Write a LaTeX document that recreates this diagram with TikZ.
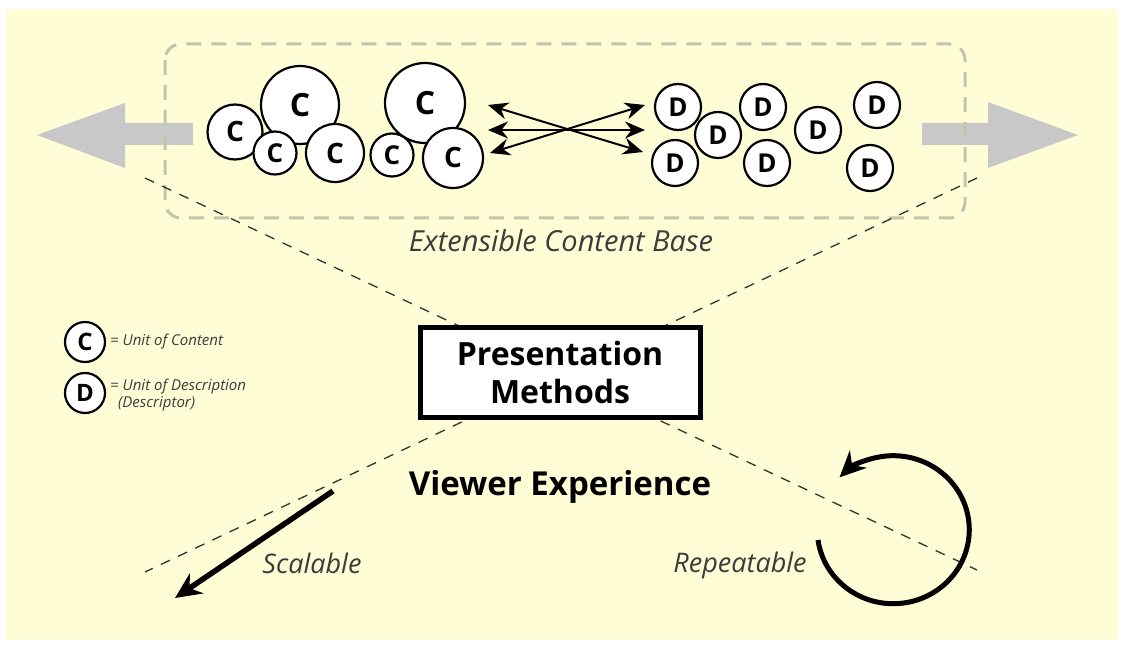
\documentclass[tikz,border=0pt]{standalone}
\usepackage{fontspec}
\setmainfont{Open Sans}
\usetikzlibrary{arrows.meta}
\definecolor{bgyellow}{RGB}{255,253,214}
\definecolor{arrowgrey}{RGB}{200,200,200}
\definecolor{dashgrey}{RGB}{196,196,170}
\definecolor{textgrey}{RGB}{60,60,60}
\tikzset{
  unit/.style={circle, draw=black, line width=2.2pt, fill=white, inner sep=0pt, font=\bfseries},
  dline/.style={dashed, dash pattern=on 10pt off 9pt, line width=1.3pt, black!80},
  bigarrow/.style={fill=arrowgrey, draw=none},
  cross/.style={line width=2pt, {Stealth[length=20pt,width=17pt]}-{Stealth[length=20pt,width=17pt]}},
  note/.style={font=\itshape, text=textgrey, inner sep=0pt},
}
\begin{document}
\begin{tikzpicture}[x=1pt,y=-1pt]
\useasboundingbox (0,0) rectangle (1124,647);
\fill[bgyellow] (6,9) rectangle (1118,640);

% grey big arrows
\fill[bigarrow] (193,123) -- (125,123) -- (125,103) -- (37,135) -- (125,168) -- (125,145) -- (193,145) -- cycle;
\fill[bigarrow] (922,123) -- (988,123) -- (988,102) -- (1078,135) -- (988,168) -- (988,145) -- (922,145) -- cycle;

% content base frame
\draw[dashgrey, line width=3pt, dash pattern=on 15pt off 10pt, rounded corners=16pt] (165,44) rectangle (965,218);
\node[note, font=\itshape\fontsize{29}{32}\selectfont] (base) at (561,241) {Extensible Content Base};

% diagonal dashed lines (X)
\coordinate (tl) at (145,178);
\coordinate (tr) at (977,178);
\coordinate (bl) at (145,572);
\coordinate (br) at (977,570);
\draw[dline] (tl) -- (br);
\draw[dline] (tr) -- (bl);

% C units
\node[unit, minimum size=78pt, font=\bfseries\fontsize{32}{32}\selectfont] (c2) at (300,105) {C};
\node[unit, minimum size=80pt, font=\bfseries\fontsize{32}{32}\selectfont] (c6) at (425,103) {C};
\node[unit, minimum size=55pt, font=\bfseries\fontsize{28}{28}\selectfont] (c1) at (235,132) {C};
\node[unit, minimum size=58pt, font=\bfseries\fontsize{28}{28}\selectfont] (c4) at (335,153) {C};
\node[unit, minimum size=60pt, font=\bfseries\fontsize{28}{28}\selectfont] (c7) at (453,158) {C};
\node[unit, minimum size=43pt, font=\bfseries\fontsize{26}{26}\selectfont] (c3) at (275,153) {C};
\node[unit, minimum size=43pt, font=\bfseries\fontsize{26}{26}\selectfont] (c5) at (392,155) {C};

% D units
\foreach \n/\x/\y in {d1/678/107, d2/718/135, d3/763/107, d4/675/163, d5/767/163, d6/818/130, d7/877/105, d8/870/168}
  \node[unit, minimum size=46pt, font=\bfseries\fontsize{26}{26}\selectfont] (\n) at (\x,\y) {D};

% crossing arrows
\coordinate (la) at (488,105);
\coordinate (lb) at (488,130);
\coordinate (lc) at (490,153);
\coordinate (ra) at (645,105);
\coordinate (rb) at (645,130);
\coordinate (rc) at (643,152);
\draw[cross] (la) -- (rc);
\draw[cross] (lb) -- (rb);
\draw[cross] (lc) -- (ra);

% presentation box
\node[draw=black, line width=5pt, fill=white, minimum width=280pt, minimum height=90pt, align=center,
      font=\bfseries\fontsize{32}{38}\selectfont] (pm) at (560,372) {Presentation\\Methods};

% legend
\node[unit, minimum size=40pt, font=\bfseries\fontsize{24}{24}\selectfont] (lc1) at (85,342) {C};
\node[unit, minimum size=40pt, font=\bfseries\fontsize{24}{24}\selectfont] (ld1) at (85,393) {D};
\node[note, anchor=west, font=\itshape\fontsize{15}{17}\selectfont] (lct) at (110,342) {= Unit of Content};
\node[note, anchor=north west, align=left, font=\itshape\fontsize{15}{17}\selectfont] (ldt) at (110,379) {= Unit of Description\\\hspace{8pt}(Descriptor)};

% viewer experience
\node[font=\bfseries\fontsize{33}{36}\selectfont, inner sep=0pt] (ve) at (560,487) {Viewer Experience};
\coordinate (s0) at (333,491);
\coordinate (s1) at (175,598);
\draw[line width=5.5pt, -{Stealth[length=26pt,width=24pt]}] (s0) -- (s1);
\node[note, font=\itshape\fontsize{27}{30}\selectfont] (sc) at (312,563) {Scalable};
\node[note, font=\itshape\fontsize{27}{30}\selectfont] (rp) at (740,565) {Repeatable};
\coordinate (rc0) at (818,540);
\draw[line width=5pt, -{Stealth[length=26pt,width=24pt]}] (rc0) arc[start angle=172, end angle=-135, x radius=76, y radius=74];
\end{tikzpicture}
\end{document}
